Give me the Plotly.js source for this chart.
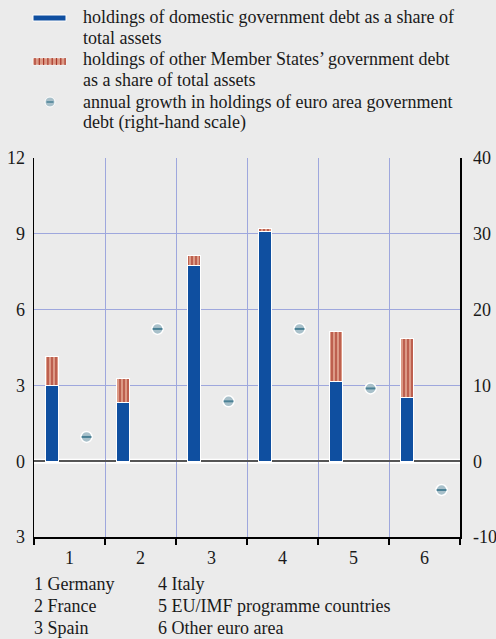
<!DOCTYPE html>
<html><head><meta charset="utf-8">
<script src="https://cdn.plot.ly/plotly-3.0.1.min.js"></script>
<style>
svg text { font-family: 'Liberation Serif', serif !important; }
</style>
</head><body style="margin:0;background:#ebebeb"><div id="chart"></div>
<script>
const categories = ['1','2','3','4','5','6'];
const countryNames = ['Germany','France','Spain','Italy','EU/IMF programme countries','Other euro area'];
const domestic = [3.0, 2.33, 7.75, 9.09, 3.16, 2.52];
const otherMS = [1.15, 0.94, 0.40, 0.11, 1.97, 2.33];
const growth = [3.2, 17.45, 7.9, 17.45, 9.6, -3.8];
const leftTicks = [-3, 0, 3, 6, 9, 12];
const leftTickText = ['3','0','3','6','9','12'];
const rightTicks = [-10, 0, 10, 20, 30, 40];
const rightTickText = ['-10','0','10','20','30','40'];
const legendLines = [
  'holdings of domestic government debt as a share of', 'total assets',
  'holdings of other Member States\u2019 government debt', 'as a share of total assets',
  'annual growth in holdings of euro area government', 'debt (right-hand scale)'
];

(function () {
  const BLUE = '#0f4fa0', SALMON = '#dc9a86', STRIPE = '#a8382a';
  const GRID = '#9ea7dd', DOTF = '#a8c0ca', DOTL = '#4a8095';
  const FAM = 'Liberation Serif';
  const TXT = '#1a1a1a';
  const f18 = () => ({family:FAM, size:18, color:TXT});

  const pos = categories.map((c, i) => i + 1);
  const barX = pos.map(p => p - 0.25);
  const dotX = pos.map(p => p + 0.24);

  const traces = [
    {type:'bar', x:barX, y:domestic, width:0.19, xaxis:'x', yaxis:'y',
     marker:{color:BLUE, line:{color:'#ffffff', width:1}}, hoverinfo:'skip'},
    {type:'bar', x:barX, y:otherMS, width:0.19, xaxis:'x', yaxis:'y',
     marker:{color:SALMON, line:{color:'#ffffff', width:1},
       pattern:{shape:'|', bgcolor:SALMON, fgcolor:STRIPE, size:4, solidity:0.3}}, hoverinfo:'skip'},
    {type:'scatter', mode:'markers', x:dotX, y:growth, xaxis:'x2', yaxis:'y2',
     marker:{size:11, color:DOTF, line:{color:'#ffffff', width:1.5}}, hoverinfo:'skip', cliponaxis:false},
    {type:'scatter', mode:'markers', x:dotX, y:growth, xaxis:'x2', yaxis:'y2',
     marker:{size:7, symbol:'line-ew', color:DOTL, line:{color:DOTL, width:2}}, hoverinfo:'skip', cliponaxis:false}
  ];

  const pl = 34, pr = 460, pt = 158, pb = 537;
  const px = v => (v - pl) / (pr - pl);
  const py = v => (pb - v) / (pb - pt);

  const shapes = [
    {type:'line', xref:'paper', yref:'y', x0:0, x1:1, y0:0, y1:0, line:{color:'#ffffff', width:5}, layer:'below'},
    {type:'rect', xref:'paper', yref:'paper', x0:px(33), x1:px(66), y0:py(21), y1:py(15), fillcolor:BLUE, line:{color:'#ffffff', width:1}},
    {type:'rect', xref:'paper', yref:'paper', x0:px(33), x1:px(66), y0:py(65), y1:py(58), fillcolor:SALMON, line:{color:'#ffffff', width:0.5}},
    {type:'circle', xref:'paper', yref:'paper', x0:px(45), x1:px(55), y0:py(107), y1:py(97), fillcolor:DOTF, line:{color:'#ffffff', width:1}},
    {type:'line', xref:'paper', yref:'paper', x0:px(46.5), x1:px(53.5), y0:py(102), y1:py(102), line:{color:DOTL, width:1.5}}
  ];
  for (let k = 0; k < 8; k++) {
    const xx = 35 + k * 4.3;
    shapes.push({type:'line', xref:'paper', yref:'paper', x0:px(xx), x1:px(xx), y0:py(65), y1:py(58), line:{color:STRIPE, width:1.2}});
  }

  const legendY = [16.5, 37.5, 59.5, 80, 102, 123];
  const annotations = legendLines.map((t, i) => ({xref:'paper', yref:'paper', x:px(81), y:py(legendY[i]),
    xanchor:'left', yanchor:'middle', showarrow:false, text:t, font:f18()}));
  const footY = [584, 606, 628];
  countryNames.forEach((n, i) => {
    annotations.push({xref:'paper', yref:'paper', x:px(i < 3 ? 32 : 156), y:py(footY[i % 3]),
      xanchor:'left', yanchor:'middle', showarrow:false, text:categories[i] + ' ' + n, font:f18()});
  });

  const bounds = [0.5,1.5,2.5,3.5,4.5,5.5,6.5];
  const layout = {
    width:496, height:639,
    paper_bgcolor:'#ebebeb', plot_bgcolor:'#ebebeb',
    margin:{l:pl, r:496-pr, t:pt, b:639-pb},
    showlegend:false, barmode:'stack',
    font:f18(),
    xaxis:{range:[0.5,6.5], tickvals:bounds, ticktext:bounds.map(()=>''), ticks:'outside', ticklen:6, tickwidth:1.5, tickcolor:'#000',
      showgrid:true, gridcolor:GRID, gridwidth:1, showline:true, linecolor:'#000', linewidth:1.5, zeroline:false},
    xaxis2:{overlaying:'x', side:'bottom', range:[0.5,6.5], tickvals:pos, ticktext:categories, ticks:'', showgrid:false,
      showline:false, zeroline:false, ticklabelstandoff:8, tickfont:f18()},
    yaxis:{range:[-3,12], tickvals:leftTicks, ticktext:leftTickText, ticks:'', showgrid:true, gridcolor:GRID, gridwidth:1,
      showline:true, linecolor:'#000', linewidth:1.5, zeroline:true, zerolinecolor:'#555', zerolinewidth:2,
      ticklabelstandoff:4, tickfont:f18()},
    yaxis2:{overlaying:'y', side:'right', range:[-10,40], tickvals:rightTicks, ticktext:rightTickText, ticks:'', showgrid:false,
      showline:true, linecolor:'#000', linewidth:1.5, zeroline:false, ticklabelstandoff:8, tickfont:f18()},
    shapes:shapes, annotations:annotations
  };

  Plotly.newPlot('chart', traces, layout, {displayModeBar:false, staticPlot:true});
})();
</script></body></html>
